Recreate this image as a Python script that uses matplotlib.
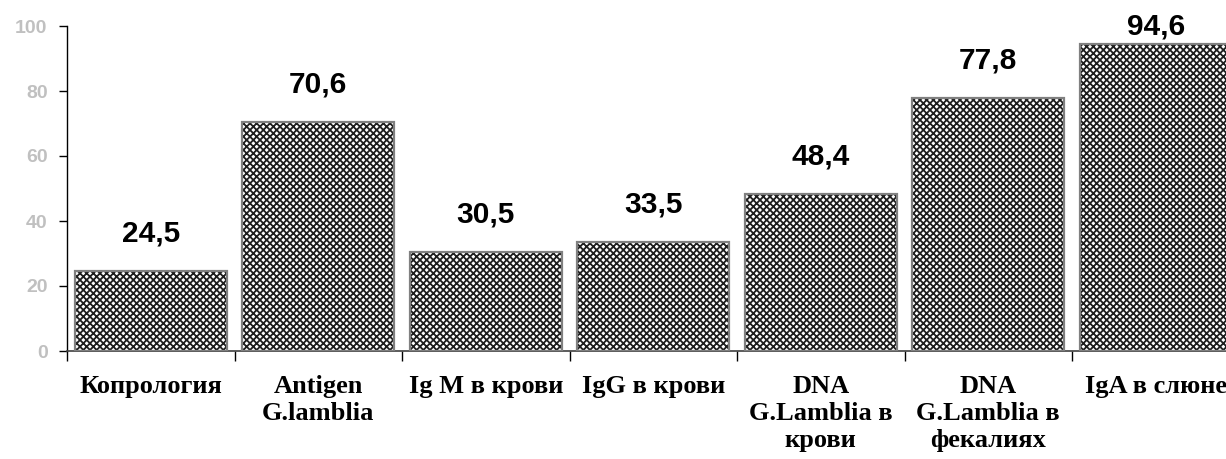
import matplotlib
matplotlib.use("Agg")
import matplotlib.pyplot as plt
import numpy as np

categories = [
    "Копрология",
    "Antigen\nG.lamblia",
    "Ig M в крови",
    "IgG в крови",
    "DNA\nG.Lamblia в\nкрови",
    "DNA\nG.Lamblia в\nфекалиях",
    "IgA в слюне",
]
values = [24.5, 70.6, 30.5, 33.5, 48.4, 77.8, 94.6]
value_labels = ["24,5", "70,6", "30,5", "33,5", "48,4", "77,8", "94,6"]
yticks = [0, 20, 40, 60, 80, 100]

plt.rcParams["hatch.linewidth"] = 1.3

fig = plt.figure(figsize=(12.26, 4.59), dpi=100)
ax = fig.add_axes([67 / 1226, 108 / 459, (1239.5 - 67) / 1226, 325 / 459])

x = np.arange(len(categories))
# patterned fill
ax.bar(x, values, width=0.91, color="white", edgecolor="#1e1e1e",
       hatch="xxxxx", linewidth=0, zorder=2)
# border
ax.bar(x, values, width=0.91, fill=False, edgecolor="#808080",
       linewidth=1.6, zorder=3)

ax.set_xlim(-0.5, len(categories) - 0.5)
ax.set_ylim(0, 100)

for xi, v, lab in zip(x, values, value_labels):
    ax.text(xi, min(v + 11.5, 99.7), lab, ha="center", va="center",
            fontsize=21.5, fontweight="bold", family="Liberation Sans",
            color="black", zorder=4, clip_on=False)

ax.set_yticks(yticks)
ax.set_yticklabels([str(t) for t in yticks], color="#c0c0c0",
                   fontsize=14, fontweight="bold", family="Liberation Sans")
ax.tick_params(axis="y", direction="out", length=6, width=1, pad=8)

ax.set_xticks(x)
ax.set_xticklabels(categories, fontsize=19, fontweight="bold",
                   family="Liberation Serif", linespacing=1.24, va="top")
ax.tick_params(axis="x", which="major", length=0, pad=17)
ax.set_xticks(np.arange(len(categories) + 1) - 0.5, minor=True)
ax.tick_params(axis="x", which="minor", direction="out", length=7, width=1)

for s in ["top", "right"]:
    ax.spines[s].set_visible(False)
ax.spines["left"].set_linewidth(1)
ax.spines["bottom"].set_linewidth(1.2)
ax.spines["bottom"].set_color("#404040")

fig.savefig("out.png", dpi=100)
